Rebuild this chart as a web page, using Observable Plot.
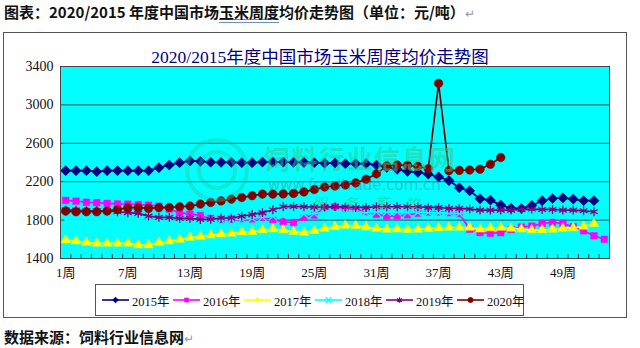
<!DOCTYPE html>
<html><head><meta charset="utf-8">
<script src="https://cdn.jsdelivr.net/npm/d3@7"></script>
<script src="https://cdn.jsdelivr.net/npm/@observablehq/plot@0.6"></script>
<style>
body{margin:0;background:#fff;}
#page{position:relative;width:640px;height:348px;overflow:hidden;font-family:"Noto Sans CJK SC",sans-serif;}
.txt{position:absolute;left:4px;font-size:15px;font-weight:bold;color:#111;white-space:nowrap;line-height:20px;}
.ret{color:#9a9a9a;font-weight:normal;font-size:12px;}
.ul{text-decoration:underline double #6f8fbf;}
#box{position:absolute;left:3px;top:32px;width:624px;height:286px;border:1px solid #555;box-sizing:border-box;}
#title{position:absolute;left:0;width:640px;top:46px;text-align:center;font-family:"Liberation Serif","Noto Sans CJK SC",serif;font-size:17.5px;line-height:22px;color:#000080;}
#chart{position:absolute;left:0;top:40px;}
#legend{position:absolute;left:95px;top:284px;width:429px;height:32px;border:1px solid #555;box-sizing:border-box;background:#fff;}
.li{position:absolute;top:0;height:30px;display:flex;align-items:center;white-space:nowrap;font-family:"Liberation Serif","Noto Sans CJK SC",serif;font-size:12.5px;color:#111;}
.wm{position:absolute;pointer-events:none;white-space:nowrap;}
</style></head>
<body><div id="page">
<div class="txt" style="top:2px">图表：2020/2015 年度中国市场<span class="ul">玉米周度</span>均价走势图（单位：元/吨）<span class="ret">↵</span></div>
<div id="box"></div>
<div id="title">2020/2015年度中国市场玉米周度均价走势图</div>
<div id="chart"></div>
<div class="wm" style="left:185px;top:138px;width:64px;height:64px;border:4px solid rgba(40,200,150,0.38);border-radius:50%;box-sizing:border-box;"></div>
<div class="wm" style="left:197px;top:150px;width:40px;height:40px;border:4px solid rgba(40,200,150,0.38);border-radius:50%;box-sizing:border-box;"></div>
<div class="wm" style="left:264px;top:145px;font-size:26px;line-height:26px;height:26px;font-weight:bold;color:rgba(60,200,140,0.55);letter-spacing:1.5px;">饲料行业信息网</div>
<div class="wm" style="left:268px;top:178px;font-size:15px;line-height:15px;height:15px;font-family:'DejaVu Sans';color:rgba(60,120,120,0.38);">www.feedtrade.com.cn</div>
<div class="wm" style="left:312px;top:195px;font-size:15px;line-height:15px;height:15px;font-style:italic;color:rgba(60,180,80,0.45);letter-spacing:16px;">服务畜牧</div>
<div id="legend"></div>
<div class="txt" style="top:327px">数据来源：饲料行业信息网<span class="ret">↵</span></div>
</div>
<script>
const weeks = [1,2,3,4,5,6,7,8,9,10,11,12,13,14,15,16,17,18,19,20,21,22,23,24,25,26,27,28,29,30,31,32,33,34,35,36,37,38,39,40,41,42,43,44,45,46,47,48,49,50,51,52,53];
const years = ["2015年","2016年","2017年","2018年","2019年","2020年"];
const s2015 = [2315,2315,2315,2305,2315,2315,2315,2315,2315,2346,2374,2398,2416,2412,2403,2402,2402,2398,2398,2405,2405,2405,2402,2402,2398,2393,2395,2388,2388,2388,2374,2348,2329,2308,2298,2278,2250,2212,2137,2105,2022,2008,1956,1924,1920,1953,2002,2025,2031,2019,2002,2002];
const s2016 = [2005,1997,1986,1981,1974,1968,1966,1962,1955,1945,1915,1877,1862,1848,1817,1805,1810,1815,1812,1830,1805,1785,1775,1830,1852,1930,1937,1922,1910,1888,1860,1842,1843,1855,1872,1883,1885,1877,1868,1705,1670,1663,1670,1702,1727,1737,1765,1776,1765,1730,1689,1637,1600];
const s2017 = [1591,1581,1567,1557,1557,1557,1557,1539,1539,1567,1581,1598,1619,1630,1643,1654,1661,1675,1678,1696,1706,1696,1678,1671,1689,1713,1730,1744,1739,1727,1712,1703,1704,1700,1703,1710,1718,1723,1723,1722,1705,1717,1722,1713,1705,1696,1696,1703,1713,1718,1734,1762];
const s2018 = [1800,1800,1800,1800,1800,1800,1800,1800,1800,1795,1790,1790,1790,1795,1800,1800,1805,1810,1820,1830,1840,1850,1860,1865,1870,1875,1875,1880,1880,1880,1885,1885,1885,1880,1880,1880,1875,1875,1870,1870,1865,1860,1860,1860,1855,1855,1850,1850,1850,1850,1845,1845];
const s2019 = [1904,1904,1897,1897,1897,1887,1877,1870,1842,1828,1828,1817,1817,1807,1808,1822,1822,1840,1858,1878,1908,1939,1942,1939,1935,1935,1940,1936,1932,1932,1939,1939,1939,1939,1939,1932,1932,1922,1922,1915,1904,1904,1904,1904,1911,1915,1911,1911,1904,1904,1897,1887];
const s2020 = [1894,1887,1887,1887,1894,1911,1929,1929,1922,1929,1932,1939,1946,1967,1984,2000,2019,2035,2055,2071,2071,2073,2078,2094,2118,2145,2155,2167,2188,2226,2282,2365,2374,2370,2360,2335,3225,2315,2318,2322,2330,2382,2452];
const yTicks = [1400,1800,2200,2600,3000,3400];
const xTicks = [1,7,13,19,25,31,37,43,49];
const colors = ["#000080","#FF00FF","#FFFF00","#00FFFF","#800080","#800000"];
const symbols = ["diamond2","square2","triangle2","times","asterisk","circle"];
const series = [s2015,s2016,s2017,s2018,s2019,s2020];

const filled = [true,true,true,false,false,true];
const sizes = [4.6,4.2,4.6,3.6,4.2,4.3];
const bounds = d3.range(0, weeks.length + 1).map(k => k + 0.5);

const marks = [
  Plot.frame({fill:"#00FFFF"}),
  Plot.gridY(yTicks,{stroke:"#3d4a4a",strokeOpacity:1}),
  Plot.axisY(yTicks,{tickSize:0,tickPadding:7,fontSize:14,tickFormat:d=>String(d),label:null}),
  Plot.axisX(xTicks,{tickSize:0,tickPadding:9,fontSize:13,tickFormat:d=>d+"周",label:null}),
  Plot.axisX(bounds,{tickSize:-4,tickFormat:()=>"",label:null,stroke:"#333"})
];
series.forEach((s,i)=>{
  const data = s.map((v,j)=>({week:weeks[j],value:v}));
  marks.push(Plot.line(data,{x:"week",y:"value",stroke:colors[i],strokeWidth:1.7}));
  marks.push(Plot.dot(data,{x:"week",y:"value",symbol:()=>symbols[i],r:sizes[i],
    fill: filled[i]?colors[i]:"none", stroke:colors[i], strokeWidth: filled[i]?0.5:1.3}));
});
marks.push(Plot.frame({stroke:"#444"}));

const chart = Plot.plot({
  width:640,height:242,marginLeft:60,marginRight:31,marginTop:26,marginBottom:24,
  style:{fontFamily:"'Liberation Serif','Noto Sans CJK SC',serif",color:"#111",background:"transparent"},
  x:{domain:[0.5,53.5],label:null},
  y:{domain:[1400,3400],label:null},
  symbol:{type:"identity"},
  marks
});
document.getElementById("chart").appendChild(chart);

const legend = document.getElementById("legend");
const symMap = {diamond2:d3.symbolDiamond2,square2:d3.symbolSquare2,triangle2:d3.symbolTriangle2,times:d3.symbolTimes,asterisk:d3.symbolAsterisk,circle:d3.symbolCircle};
years.forEach((yr,i)=>{
  const item = document.createElement("div");
  item.className = "li";
  item.style.left = (6 + i*71) + "px";
  const svg = d3.create("svg").attr("width",27).attr("height",12).style("margin-right","3px");
  svg.append("line").attr("x1",0).attr("x2",27).attr("y1",6).attr("y2",6).attr("stroke",colors[i]).attr("stroke-width",1.6);
  svg.append("path").attr("transform","translate(13.5,6)")
    .attr("d",d3.symbol(symMap[symbols[i]], 22)())
    .attr("fill",filled[i]?colors[i]:"none").attr("stroke",colors[i]).attr("stroke-width",filled[i]?0.5:1.2);
  item.appendChild(svg.node());
  const t = document.createElement("span");
  t.textContent = yr;
  item.appendChild(t);
  legend.appendChild(item);
});
</script>
</body></html>
